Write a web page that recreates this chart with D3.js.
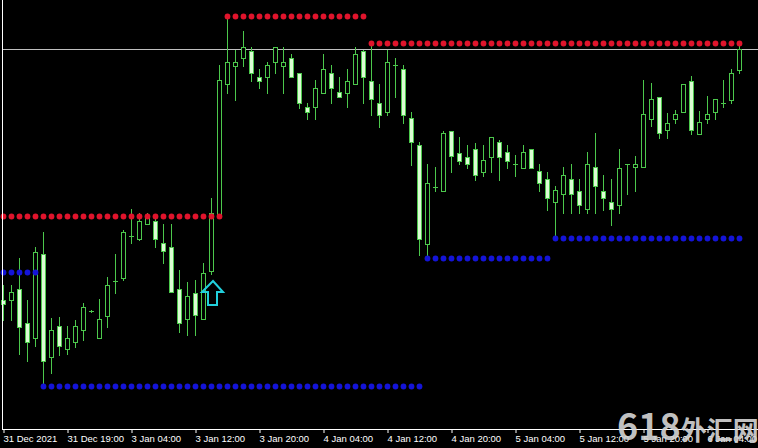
<!DOCTYPE html>
<html><head><meta charset="utf-8">
<script src="https://cdn.jsdelivr.net/npm/d3@7"></script>
<style>html,body{margin:0;padding:0;background:#000;}svg{display:block;}</style>
</head><body>
<script>
// Hourly bars (price in chart units)
const open  = [148,148,159,125,110,194,91,122,99,106,118,137,110,132,167,170,212,209,224,227,205,201,159,129,155,129,177,231,364,382,390,397,371,371,386,382,390,375,341,341,355,375,356,355,364,397,367,345,336,383,379,330,303,204,261,257,317,295,291,299,276,291,306,296,284,280,299,277,269,246,254,269,257,239,281,257,246,243,284,281,281,329,351,318,329,336,367,314,329,336,345,348,378];
const high  = [163,163,190,148,201,216,130,131,122,128,145,138,149,171,194,218,239,235,235,232,224,224,178,166,168,185,250,383,430,398,417,401,379,386,401,401,394,375,345,368,394,383,371,379,401,398,405,364,398,390,383,336,306,284,281,317,317,311,303,305,303,311,308,303,293,303,299,284,276,262,281,284,269,296,315,273,269,299,284,292,368,365,351,335,338,364,372,337,352,349,368,379,403];
const low   = [128,128,94,87,102,65,75,93,94,101,108,136,110,121,155,168,205,208,224,201,185,156,116,113,113,129,174,231,355,348,382,367,360,355,375,355,371,340,329,329,355,345,351,341,364,345,333,321,333,351,325,283,193,193,257,257,276,284,280,268,272,276,268,280,272,280,280,257,238,211,235,235,235,235,235,238,223,235,254,257,281,322,310,310,325,336,314,314,325,329,341,345,375];
const close = [144,156,121,106,196,87,118,102,110,122,141,137,129,163,167,216,212,227,233,209,197,156,125,152,133,175,235,368,386,386,401,375,367,383,401,386,371,345,336,360,379,360,351,367,394,371,349,333,386,383,333,306,209,265,261,315,292,287,284,273,288,311,291,287,284,296,280,265,250,258,273,254,243,284,262,250,239,280,284,284,334,349,315,325,334,364,318,326,334,349,345,375,399];

// Time axis
const tickIndex  = [0,8,16,24,32,40,48,56,64,72,80,88];
const tickLabels = ["31 Dec 2021","31 Dec 19:00","3 Jan 04:00","3 Jan 12:00","3 Jan 20:00","4 Jan 04:00","4 Jan 12:00","4 Jan 20:00","5 Jan 04:00","5 Jan 12:00","5 Jan 20:00","6 Jan 04:00"];

// Resistance (red) and support (blue) dotted levels: [first bar, last bar, level]
const resistFrom = [0,28,46],  resistTo = [27,45,92],  resistLevel = [232,432,405];
const supportFrom = [0,5,53,69], supportTo = [4,52,68,92], supportLevel = [176,62,190,210];

// Buy arrow
const arrowBar = [26], arrowTop = [167];

const W = 758, H = 448;
const svg = d3.select("body").append("svg").attr("width", W).attr("height", H)
  .style("background", "#000");

const idx = d3.range(close.length);
const x = d3.scalePoint().domain(idx).range([3, 739]);
const y = d3.scaleLinear().domain([0, 448]).range([448, 0]);

const plot = svg.append("g");

// bid line
plot.append("line").attr("x1", 2).attr("x2", W)
  .attr("y1", Math.round(y(close[close.length-1])) + 0.5).attr("y2", Math.round(y(close[close.length-1])) + 0.5)
  .attr("stroke", "#bfbfbf").attr("stroke-width", 1);

// dotted levels
function dots(from, to, level, color) {
  from.forEach((f, k) => {
    plot.append("g").selectAll("circle").data(d3.range(f, to[k] + 1)).join("circle")
      .attr("cx", d => x(d) + 0.5).attr("cy", y(level[k]) + 0.5).attr("r", 2.9)
      .attr("fill", color);
  });
}

const green = "#4cc84c", bearFill = "#dcfcd4";
const cg = plot.append("g");
cg.selectAll("line.wick").data(idx).join("line").attr("class", "wick")
  .attr("x1", d => x(d) + 0.5).attr("x2", d => x(d) + 0.5)
  .attr("y1", d => Math.round(y(high[d]))).attr("y2", d => Math.round(y(low[d])) + 1)
  .attr("stroke", green).attr("stroke-width", 1);
cg.selectAll("rect").data(idx.filter(d => open[d] !== close[d])).join("rect")
  .attr("x", d => x(d) - 1.5).attr("width", 4)
  .attr("y", d => Math.round(y(Math.max(open[d], close[d]))) + 0.5)
  .attr("height", d => Math.abs(Math.round(y(open[d])) - Math.round(y(close[d]))))
  .attr("fill", d => close[d] < open[d] ? bearFill : "#000")
  .attr("stroke", green).attr("stroke-width", 1);
cg.selectAll("line.doji").data(idx.filter(d => open[d] === close[d])).join("line").attr("class", "doji")
  .attr("x1", d => x(d) - 2).attr("x2", d => x(d) + 3)
  .attr("y1", d => Math.round(y(close[d])) + 0.5).attr("y2", d => Math.round(y(close[d])) + 0.5)
  .attr("stroke", green).attr("stroke-width", 1);

dots(resistFrom, resistTo, resistLevel, "#e0142c");
dots(supportFrom, supportTo, supportLevel, "#1414d8");

// arrow
arrowBar.forEach((b, k) => {
  const cx = x(b) + 2, t = y(arrowTop[k]);
  const pts = [[cx, t], [cx + 10, t + 11], [cx + 4, t + 11], [cx + 4, t + 24], [cx - 5, t + 24], [cx - 5, t + 11], [cx - 11, t + 11]];
  plot.append("path").attr("d", d3.line()(pts) + "Z")
    .attr("fill", "none").attr("stroke", "#22d0dc").attr("stroke-width", 2).attr("stroke-linejoin", "miter");
});

// frame
svg.append("line").attr("x1", 2.5).attr("x2", 2.5).attr("y1", 0).attr("y2", 429).attr("stroke", "#fff");
svg.append("line").attr("x1", 2).attr("x2", W).attr("y1", 429.5).attr("y2", 429.5).attr("stroke", "#fff");

const ax = svg.append("g").attr("transform", "translate(0,429)")
  .call(d3.axisBottom(x).tickValues(tickIndex).tickFormat((d, i) => tickLabels[i]).tickSize(4).tickPadding(2));
ax.select(".domain").remove();
ax.selectAll(".tick line").attr("stroke", "#fff").attr("transform", "translate(0.5,0)");
ax.selectAll(".tick text").attr("fill", "#fff").attr("text-anchor", "start")
  .style("font-family", "'Liberation Sans', Arial, sans-serif").style("font-size", "9.5px");

// watermark
const wm = svg.append("text").attr("x", 617).attr("y", 440)
  .attr("fill", "#d4d4d4").attr("fill-opacity", 0.92)
  .style("font-family", "'Noto Sans CJK SC', sans-serif").style("font-weight", "bold");
wm.append("tspan").text("618").style("font-size", "36px");
wm.append("tspan").text("外汇网").style("font-size", "26px");
</script>
</body></html>
